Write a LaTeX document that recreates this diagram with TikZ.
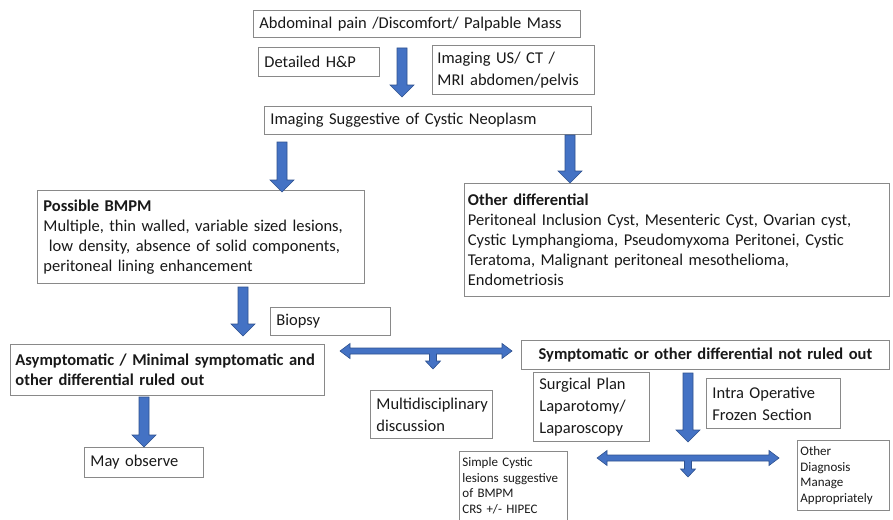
\documentclass[tikz,border=0pt]{standalone}
\usepackage{fontspec}
\setmainfont{Carlito}
\usetikzlibrary{calc}

\definecolor{boxline}{RGB}{137,137,137}
\definecolor{arrowfill}{RGB}{68,114,196}
\definecolor{arrowline}{RGB}{47,82,143}
\definecolor{textcol}{RGB}{25,25,25}

\tikzset{
  box/.style={draw=boxline, line width=0.8pt, fill=white, anchor=north west, align=left,
              inner xsep=6pt, inner ysep=2pt, text=textcol, font=\fontsize{16.5}{20}\selectfont},
  widebox/.style={box, font=\fontsize{16.5}{22}\selectfont},
  smallbox/.style={box, inner xsep=3pt, font=\fontsize{13}{15.5}\selectfont},
  blockarrow/.style={fill=arrowfill, draw=arrowline, line width=0.6pt, line join=miter},
}

% block arrow pointing down: #1 tail, #2 tip
\newcommand{\blockdown}[2]{%
  \draw[blockarrow] let \p1=(#1), \p2=(#2) in
    (\x1-5pt,\y1) -- (\x1+5pt,\y1) -- (\x1+5pt,\y2+12pt) -- (\x1+12pt,\y2+12pt)
    -- (\x1,\y2) -- (\x1-12pt,\y2+12pt) -- (\x1-5pt,\y2+12pt) -- cycle;}

% two-headed block arrow with a stub: #1 left tip, #2 right tip, #3 stub tip
\newcommand{\blockfork}[3]{%
  \draw[blockarrow] let \p1=(#1), \p2=(#2), \p3=(#3) in
    (\x1,\y1) -- (\x1+10pt,\y1+7.5pt) -- (\x1+10pt,\y1+3pt) -- (\x2-10pt,\y1+3pt)
    -- (\x2-10pt,\y1+7.5pt) -- (\x2,\y1) -- (\x2-10pt,\y1-7.5pt) -- (\x2-10pt,\y1-3pt)
    -- (\x3+3.5pt,\y1-3pt) -- (\x3+3.5pt,\y3+8pt) -- (\x3+7.5pt,\y3+8pt) -- (\x3,\y3)
    -- (\x3-7.5pt,\y3+8pt) -- (\x3-3.5pt,\y3+8pt) -- (\x3-3.5pt,\y1-3pt)
    -- (\x1+10pt,\y1-3pt) -- (\x1+10pt,\y1-7.5pt) -- cycle;}

\begin{document}
\begin{tikzpicture}[x=1pt, y=-1pt]
    \clip (0,0) rectangle (893,519);
    \fill[white] (0,0) rectangle (893,519);

    % Nodes
    \node [box, text width=315pt, minimum height=27pt]  (pain)     at (253,10)  {Abdominal pain /Discomfort/ Palpable Mass};
    \node [box, text width=109pt, minimum height=29pt]  (hp)       at (258,47)  {Detailed H\&P};
    \node [widebox, text width=152pt, minimum height=49pt, inner xsep=5pt] (imaging) at (432,45) {Imaging US/ CT /\\MRI abdomen/pelvis};
    \node [box, text width=315pt, minimum height=28pt]  (suggest)  at (264,106) {Imaging Suggestive of Cystic Neoplasm};
    \node [box, text width=315pt, minimum height=93pt]  (bmpm)     at (37,190)
        {\textbf{Possible BMPM}\\Multiple, thin walled, variable sized lesions,\\\ low density, absence of solid components,\\peritoneal lining enhancement};
    \node [box, text width=418pt, minimum height=113pt, inner xsep=3.5pt] (otherdiff) at (464,183)
        {\textbf{Other differential}\\Peritoneal Inclusion Cyst, Mesenteric Cyst, Ovarian cyst,\\Cystic Lymphangioma, Pseudomyxoma Peritonei, Cystic\\Teratoma, Malignant peritoneal mesothelioma,\\Endometriosis};
    \node [box, text width=108pt, minimum height=28pt]  (biopsy)   at (270,307) {Biopsy};
    \node [box, text width=304pt, minimum height=51pt, inner xsep=5pt] (asym) at (10,344)
        {\textbf{Asymptomatic / Minimal symptomatic and}\\\textbf{other differential ruled out}};
    \node [box, text width=356pt, minimum height=29pt, align=center] (sympt) at (521,340)
        {\textbf{Symptomatic or other differential not ruled out}};
    \node [widebox, text width=110pt, minimum height=48pt]  (mdt)     at (370,390) {Multidisciplinary\\discussion};
    \node [box, text width=107pt, minimum height=30pt]      (observe) at (84,447)  {May observe};
    \node [widebox, text width=104pt, minimum height=69pt]  (surgery) at (533,372) {Surgical Plan\\Laparotomy/\\Laparoscopy};
    \node [widebox, text width=122pt, minimum height=50pt]  (frozen)  at (706,378) {Intra Operative\\Frozen Section};
    \node [smallbox, text width=102pt, minimum height=69pt] (simple)  at (459,451)
        {Simple Cystic\\lesions suggestive\\of BMPM\\CRS +/- HIPEC};
    \node [smallbox, text width=86pt, minimum height=70pt, inner xsep=3pt] (otherdx) at (797,440)
        {Other\\Diagnosis\\Manage\\Appropriately};

    % Arrow ends
    \coordinate (a1s) at (402,48);   \coordinate (a1e) at (402,97);
    \coordinate (a2s) at (282,142);  \coordinate (a2e) at (282,192);
    \coordinate (a3s) at (570,135);  \coordinate (a3e) at (570,183);
    \coordinate (a4s) at (243,287);  \coordinate (a4e) at (243,336);
    \coordinate (a5s) at (144,397);  \coordinate (a5e) at (144,447);
    \coordinate (a6s) at (688,373);  \coordinate (a6e) at (688,442);
    \coordinate (f1l) at (340,351);  \coordinate (f1r) at (512,351);  \coordinate (f1d) at (433,369);
    \coordinate (f2l) at (597,458);  \coordinate (f2r) at (779,458);  \coordinate (f2d) at (688,477);

    % Arrows
    \blockdown{a1s}{a1e}
    \blockdown{a2s}{a2e}
    \blockdown{a3s}{a3e}
    \blockdown{a4s}{a4e}
    \blockdown{a5s}{a5e}
    \blockdown{a6s}{a6e}
    \blockfork{f1l}{f1r}{f1d}
    \blockfork{f2l}{f2r}{f2d}
\end{tikzpicture}
\end{document}
